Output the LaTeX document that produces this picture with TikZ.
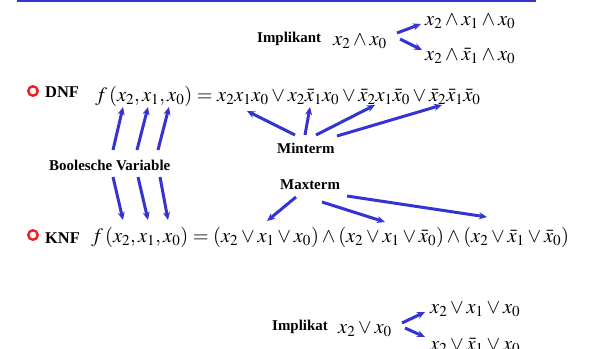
\documentclass[tikz,border=0pt]{standalone}
\usepackage{mathptmx}
\usepackage{fontspec}
\setmainfont{Liberation Serif}
\usetikzlibrary{arrows.meta}
\definecolor{myblue}{RGB}{52,52,210}
\definecolor{myred}{RGB}{235,30,30}
\tikzset{
  lbl/.style={font=\fontsize{15}{18}\selectfont\bfseries, inner sep=0pt, anchor=base west},
  big/.style={lbl, font=\fontsize{16.5}{19}\selectfont\bfseries},
  mth/.style={font=\fontsize{20.5}{24}\selectfont, inner sep=0pt, anchor=base west},
  arr/.style={draw=myblue, line width=3bp, -{Stealth[length=8bp,width=7bp]}},
  bul/.style={draw=myred, line width=2.4bp, circle, minimum size=9.5bp, inner sep=0pt}
}
\begin{document}
\begin{tikzpicture}[x=1bp,y=-1bp]
\useasboundingbox (0,0) rectangle (593,348);
\draw[myblue, line width=1.5bp] (17,1) coordinate (l1) -- (536,1) coordinate (l2);
% top implicant
\node[lbl] (impl) at (257,42) {Implikant};
\node[mth] (implx) at (333,45) {$x_2\wedge x_0$};
\node[mth] (t1) at (425,25) {$x_2\wedge x_1\wedge x_0$};
\node[mth] (t2) at (425,60) {$x_2\wedge \bar{x}_1\wedge x_0$};
\coordinate (ia1) at (397,33); \coordinate (ib1) at (421,24);
\coordinate (ia2) at (400,39); \coordinate (ib2) at (422,50);
\draw[arr] (ia1) -- (ib1);
\draw[arr] (ia2) -- (ib2);
% DNF
\node[bul] (b1) at (33,91) {};
\node[big] (dnf) at (45,97) {DNF};
\node[mth] (dnff) at (95,101) {$f\,(x_2,x_1,x_0)=x_2x_1x_0\vee x_2\bar{x}_1x_0\vee\bar{x}_2x_1\bar{x}_0\vee\bar{x}_2\bar{x}_1\bar{x}_0$};
% Boolesche Variable
\node[lbl] (bv) at (49,170) {Boolesche Variable};
\coordinate (u1a) at (113,150); \coordinate (u1b) at (123,107);
\coordinate (u2a) at (137,150); \coordinate (u2b) at (148,107);
\coordinate (u3a) at (158,150); \coordinate (u3b) at (169,107);
\draw[arr] (u1a) -- (u1b);
\draw[arr] (u2a) -- (u2b);
\draw[arr] (u3a) -- (u3b);
\coordinate (d1a) at (113,177); \coordinate (d1b) at (123,220);
\coordinate (d2a) at (138,177); \coordinate (d2b) at (148,220);
\coordinate (d3a) at (160,177); \coordinate (d3b) at (168,220);
\draw[arr] (d1a) -- (d1b);
\draw[arr] (d2a) -- (d2b);
\draw[arr] (d3a) -- (d3b);
% Minterm
\node[lbl] (mint) at (277,153) {Minterm};
\coordinate (m1a) at (295,135); \coordinate (m1b) at (247,111);
\coordinate (m2a) at (305,135); \coordinate (m2b) at (310,107);
\coordinate (m3a) at (316,135); \coordinate (m3b) at (375,105);
\coordinate (m4a) at (337,136); \coordinate (m4b) at (442,105);
\draw[arr] (m1a) -- (m1b);
\draw[arr] (m2a) -- (m2b);
\draw[arr] (m3a) -- (m3b);
\draw[arr] (m4a) -- (m4b);
% Maxterm
\node[lbl] (maxt) at (280,189) {Maxterm};
\coordinate (x1a) at (296,197); \coordinate (x1b) at (267,221);
\coordinate (x2a) at (322,202); \coordinate (x2b) at (385,222);
\coordinate (x3a) at (347,196); \coordinate (x3b) at (487,217);
\draw[arr] (x1a) -- (x1b);
\draw[arr] (x2a) -- (x2b);
\draw[arr] (x3a) -- (x3b);
% KNF
\node[bul] (b2) at (33,235) {};
\node[big] (knf) at (45,243) {KNF};
\node[mth] (knff) at (91,242) {$f\,(x_2,x_1,x_0)=(x_2\vee x_1\vee x_0)\wedge(x_2\vee x_1\vee\bar{x}_0)\wedge(x_2\vee\bar{x}_1\vee\bar{x}_0)$};
% bottom implicate
\node[lbl] (implt) at (272,330) {Implikat};
\node[mth] (impltx) at (338,333) {$x_2\vee x_0$};
\node[mth] (s1) at (430,313) {$x_2\vee x_1\vee x_0$};
\node[mth] (s2) at (430,350) {$x_2\vee \bar{x}_1\vee x_0$};
\coordinate (ja1) at (402,323); \coordinate (jb1) at (425,312);
\coordinate (ja2) at (405,328); \coordinate (jb2) at (425,337);
\draw[arr] (ja1) -- (jb1);
\draw[arr] (ja2) -- (jb2);
\end{tikzpicture}
\end{document}
